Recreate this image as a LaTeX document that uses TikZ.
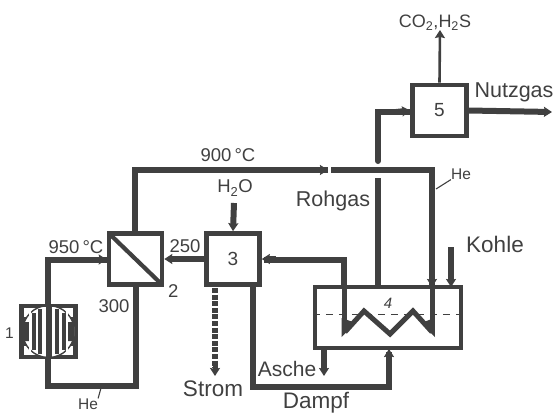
\documentclass[tikz,border=0pt]{standalone}
\usepackage{fontspec}
\setmainfont{Liberation Sans}
\usetikzlibrary{arrows.meta}
\definecolor{ink}{gray}{0.25}
\tikzset{
 pipe/.style={draw=ink,line width=6pt,line join=miter},
 thin pipe/.style={draw=ink,line width=2.6pt},
 tip/.style={-{Stealth[length=8pt,width=10pt,inset=1pt]}},
 unit/.style={draw=ink,line width=4.6pt,fill=white,minimum width=53pt,minimum height=51pt,inner sep=0pt,text=ink,font=\fontsize{19}{19}\selectfont},
 lab/.style={text=ink,inner sep=0pt,font=\fontsize{21.5}{21.5}\selectfont},
 num/.style={text=ink,inner sep=0pt,font=\fontsize{18.5}{18.5}\selectfont},
 small/.style={text=ink,inner sep=0pt,font=\fontsize{15.5}{15.5}\selectfont},
 leader/.style={draw=ink,line width=1.1pt},
}
\begin{document}
\begin{tikzpicture}[x=1pt,y=-1pt]
\useasboundingbox (0,0) rectangle (555,413);
% coordinates
\coordinate (c1t) at (48,305);
\coordinate (c1a) at (48,259.5);
\coordinate (c1b) at (48,386);
\coordinate (c1c) at (136,386);
\coordinate (topL) at (135,170);
\coordinate (topR) at (432,170);
\coordinate (mid) at (328,170);
\coordinate (rg1) at (378,286);
\coordinate (rg2) at (378,178);
\coordinate (rg3) at (378,161);
\coordinate (rg4) at (378,112);
\coordinate (coilin) at (344,259.5);
\coordinate (dampfa) at (253,387);
\coordinate (dampfb) at (389,387);
\coordinate (kohle) at (451,247);
\coordinate (ascheend) at (324,376);
\coordinate (stromend) at (215,376);
\coordinate (h2o) at (234,203);
\coordinate (gas) at (552,112);
\coordinate (co2) at (440,30);
% pipes under boxes
\draw[pipe] (c1t) -- (c1a) -- (108,259.5);
\draw[pipe] (48,358) -- (c1b) -- (c1c) -- (136,286);
\draw[pipe] (135,232) -- (topL) -- (topR) -- (432,286);
\draw[pipe] (344,286) -- (coilin) -- (264,259.5);
\draw[pipe] (rg1) -- (rg2);
\draw[pipe,line cap=round] (rg3) -- (rg4) -- (410,112);
\draw[pipe] (253,286) -- (dampfa) -- (dampfb) -- (389,352);
% boxes
\node[unit,minimum width=54pt] (u5) at (439.5,110.5) {5};
\node[unit] (u2) at (135.5,259) {};
\node[unit] (u3) at (233,259) {3};
\node[unit,minimum width=54pt] (u1) at (48.5,331.5) {};
\node[draw=ink,line width=4.2pt,fill=white,minimum width=146pt,minimum height=61pt,inner sep=0pt] (u4) at (388,317.5) {};
% heat exchanger diagonal
\draw[draw=ink,line width=4.2pt,shorten >=2.5pt,shorten <=2.5pt] (u2.north west) -- (u2.south east);
% reactor
\begin{scope}
\clip (23,307) rectangle (74,356);
\fill[ink] (23,317) rectangle (74,346);
\fill[white] (48.5,331.5) circle (26);
\draw[ink,line width=1.4pt] (48.5,331.5) circle (26);
\end{scope}
\fill[ink] (23,322) rectangle (29,341) (68,322) rectangle (74,341);
\fill[white] (29,310) rectangle (31,353);
\fill[white] (66,310) rectangle (68,353);
\draw[ink,line width=4pt] (33.5,313) -- (33.5,350) (63.5,313) -- (63.5,350);
\draw[ink,line width=4pt] (40,309) -- (40,354) (57,309) -- (57,354);
\draw[ink,line width=6pt] (48.5,305) -- (48.5,358);
% coil
\draw[draw=ink,line width=5pt,line join=miter] (344,286) -- (344,330);
\draw[draw=ink,line width=5pt,line join=miter] (432,286) -- (432,330);
\draw[draw=ink,line width=5pt,line join=miter] (345,332) -- (364,311) -- (390,334) -- (413,311) -- (432,332);
\fill[ink] (341.5,337) -- (341.5,318) -- (356,323) -- cycle;
\fill[ink] (435,337) -- (434.5,318) -- (421,323) -- cycle;
\draw[ink,line width=1.2pt,dash pattern=on 7pt off 6pt] (u4.west |- 0,314.5) -- (u4.east |- 0,314.5);
\node[num,font=\fontsize{15}{15}\selectfont] (n4) at (388,303) {\itshape 4};
% arrows
\draw[pipe,tip] (u2.west |- c1a) ++(-14,0) -- (u2.west |- c1a);
\draw[pipe,tip] (u3.west) -- (u2.east);
\draw[pipe,tip] (u3.east) ++(14,0) -- (u3.east);
\draw[pipe,tip] (h2o) -- (u3.north);
\draw[ink,line width=6.5pt,dash pattern=on 5pt off 1.6pt] (215,288) -- (215,368);
\draw[pipe,tip,line width=5pt] (215,365) -- (stromend);
\draw[pipe,tip] (396,112) -- (u5.west);
\draw[pipe,tip] (u5.east) -- (gas);
\draw[thin pipe,tip] (u5.north) -- (co2);
\draw[pipe,tip] (432,268) -- (432,287);
\draw[pipe,tip] (kohle) -- (451,287);
\draw[pipe,tip] (324,350) -- (ascheend);
\draw[pipe,tip] (389,368) -- (389,349);
\draw[pipe,tip] (314,170) -- (mid);
\fill[white] (328,166) rectangle (331,174);
% labels
\node[small,anchor=east] (n1) at (14,333) {1};
\node[num,anchor=west] (n2) at (168,291) {2};
\node[num,anchor=center] (t950) at (76,247) {950\,°C};
\node[num] (t250) at (185,246) {250};
\node[num] (t300) at (114,306) {300};
\node[num] (th2o) at (235,188) {H\textsubscript{2}O};
\node[num] (t900) at (228,155) {900\,°C};
\node[lab] (trg) at (333,201) {Rohgas};
\node[lab,font=\fontsize{22.5}{22.5}\selectfont] (tko) at (495,244) {Kohle};
\node[lab,font=\fontsize{22.5}{22.5}\selectfont] (tst) at (213,389) {Strom};
\node[lab,font=\fontsize{21}{21}\selectfont] (tas) at (287,369) {Asche};
\node[lab,font=\fontsize{22.5}{22.5}\selectfont] (tda) at (316,403) {Dampf};
\node[lab] (tnu) at (514,92) {Nutzgas};
\node[num,font=\fontsize{18}{18}\selectfont] (tco) at (435,23) {CO\textsubscript{2},H\textsubscript{2}S};
\node[small] (the1) at (88,404) {He};
\node[small] (the2) at (461,174) {He};
\coordinate (l1) at (101,388);
\coordinate (l2) at (436,189);
\draw[leader] (the1.north east) -- (l1);
\draw[leader] (the2.south west) -- (l2);
\end{tikzpicture}
\end{document}
